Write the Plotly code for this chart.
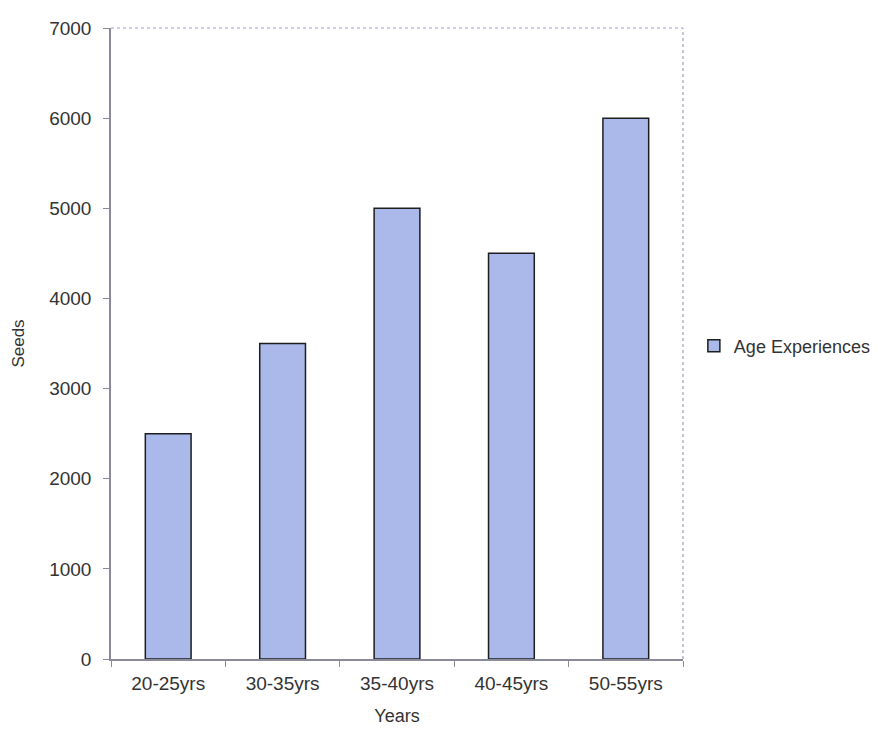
import plotly.graph_objects as go

categories = ["20-25yrs", "30-35yrs", "35-40yrs", "40-45yrs", "50-55yrs"]
seeds = [2500, 3500, 5000, 4500, 6000]
y_ticks = [0, 1000, 2000, 3000, 4000, 5000, 6000, 7000]

FONT = "Liberation Sans, Arial, sans-serif"
TXT = "#333333"

fig = go.Figure()
fig.add_trace(go.Bar(
    x=categories, y=seeds, name="Age Experiences",
    marker=dict(color="#aab8ea", line=dict(color="#1e1e1e", width=1.5)),
    showlegend=True,
))

fig.update_layout(
    width=883, height=732,
    margin=dict(l=103, r=208, t=20, b=81, autoexpand=False),
    paper_bgcolor="white", plot_bgcolor="white",
    bargap=0.6,
    font=dict(family=FONT, size=19, color=TXT),
    showlegend=True,
    legend=dict(x=1.019, y=0.496, xanchor="left", yanchor="middle",
                font=dict(family=FONT, size=18, color=TXT),
                bgcolor="rgba(0,0,0,0)"),
    xaxis=dict(
        title=dict(text="Years", font=dict(size=18), standoff=17),
        showline=True, linecolor="#8a8a9a", linewidth=1.5,
        ticks="outside", tickson="boundaries", ticklen=6, tickcolor="#8a8a9a",
        ticklabelstandoff=6, tickfont=dict(size=19),
        showgrid=False, automargin=False,
    ),
    yaxis=dict(
        title=dict(text="Seeds", font=dict(size=17), standoff=20),
        range=[0, 7000], tickvals=y_ticks,
        showline=True, linecolor="#8a8a9a", linewidth=1.5,
        ticks="outside", ticklen=6, tickcolor="#8a8a9a",
        ticklabelstandoff=8, tickfont=dict(size=19),
        showgrid=False, zeroline=False, automargin=False,
    ),
)

fig.add_shape(type="line", xref="paper", yref="paper", x0=0, x1=1, y0=1, y1=1,
              line=dict(color="#a0a0c0", width=1.2, dash="dot"))
fig.add_shape(type="line", xref="paper", yref="paper", x0=1, x1=1, y0=0, y1=1,
              line=dict(color="#a0a0c0", width=1.2, dash="dot"))

fig.write_html("out.html")
